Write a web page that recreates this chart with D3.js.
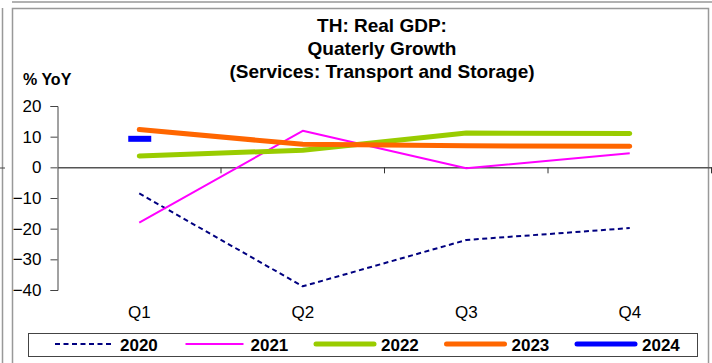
<!DOCTYPE html>
<html>
<head>
<meta charset="utf-8">
<script src="https://cdn.jsdelivr.net/npm/d3@7"></script>
<style>
  body { margin: 0; background: #fff; }
  text { font-family: "Liberation Sans", Arial, sans-serif; }
</style>
</head>
<body>
<script>
var w = 712;
var h = 363;

// data
var quarters = ["Q1", "Q2", "Q3", "Q4"];
var years = ["2020", "2021", "2022", "2023", "2024"];
var v2020 = [-8.5, -38.8, -23.7, -19.8];
var v2021 = [-18.0, 11.9, -0.3, 4.6];
var v2022 = [3.7, 5.6, 11.2, 11.0];
var v2023 = [12.3, 7.5, 7.0, 6.9];
var v2024 = [9.3];
var yTicks = [20, 10, 0, -10, -20, -30, -40];
var titleLines = ["TH: Real GDP:", "Quaterly Growth", "(Services: Transport and Storage)"];

var series = [
  {name: years[0], values: v2020, color: "#000080", width: 2, dash: "5,3.5"},
  {name: years[1], values: v2021, color: "#FF00FF", width: 2, dash: null},
  {name: years[2], values: v2022, color: "#99CC00", width: 5, dash: null},
  {name: years[3], values: v2023, color: "#FF6600", width: 5, dash: null},
  {name: years[4], values: v2024, color: "#0000FF", width: 5, dash: null}
];

var svg = d3.select("body")
  .append("svg")
  .attr("width", w)
  .attr("height", h);

// frames
svg.append("line").attr("x1", 12).attr("y1", 2).attr("x2", w).attr("y2", 2)
  .attr("stroke", "#999").attr("stroke-width", 1.5);
svg.append("line").attr("x1", 2.5).attr("y1", 8).attr("x2", 2.5).attr("y2", h)
  .attr("stroke", "#999").attr("stroke-width", 1.5);
svg.append("line").attr("x1", 0).attr("y1", 168).attr("x2", 5).attr("y2", 168)
  .attr("stroke", "#444").attr("stroke-width", 1);
svg.append("rect")
  .attr("x", 12.5).attr("y", 8.5).attr("width", 696).attr("height", 360)
  .attr("fill", "none").attr("stroke", "#999").attr("stroke-width", 1.5);

// title
svg.selectAll(".title")
  .data(titleLines)
  .enter().append("text")
  .attr("x", 382)
  .attr("y", function(d, i) { return 32 + i * 23; })
  .attr("text-anchor", "middle")
  .style("font-size", "19px")
  .style("font-weight", "bold")
  .text(function(d) { return d; });

svg.append("text")
  .attr("x", 23).attr("y", 85)
  .style("font-size", "16px")
  .style("font-weight", "bold")
  .text("% YoY");

// scales
var x = d3.scaleBand().domain(quarters).range([57.5, 711.5]);
var y = d3.scaleLinear().domain([-40, 20]).range([290, 106]);

// y axis
var yAxis = svg.append("g")
  .attr("transform", "translate(57.5,0)")
  .call(d3.axisLeft(y).tickValues(yTicks).tickSize(7).tickPadding(9));
yAxis.select(".domain").attr("stroke", "#444");
yAxis.selectAll(".tick line").attr("stroke", "#444");
yAxis.selectAll("text")
  .style("font-size", "17px")
  .attr("fill", "#000");

// zero line with category ticks
var xAxis = svg.append("g")
  .attr("transform", "translate(0," + y(0) + ")")
  .call(d3.axisBottom(x).tickSize(0).tickFormat(""));
xAxis.select(".domain").attr("stroke", "#555").attr("stroke-width", 1.5);
xAxis.selectAll(".sep")
  .data(quarters)
  .enter().append("line")
  .attr("x1", function(d) { return x(d) + x.bandwidth(); })
  .attr("x2", function(d) { return x(d) + x.bandwidth(); })
  .attr("y1", 0).attr("y2", 6)
  .attr("stroke", "#333");

// category labels at bottom
svg.selectAll(".qlab")
  .data(quarters)
  .enter().append("text")
  .attr("x", function(d) { return x(d) + x.bandwidth() / 2; })
  .attr("y", 318)
  .attr("text-anchor", "middle")
  .style("font-size", "17px")
  .text(function(d) { return d; });

// lines
var line = d3.line()
  .x(function(d, i) { return x(quarters[i]) + x.bandwidth() / 2; })
  .y(function(d) { return y(d); });

series.forEach(function(s) {
  if (s.values.length > 1) {
    svg.append("path")
      .datum(s.values)
      .attr("d", line)
      .attr("fill", "none")
      .attr("stroke", s.color)
      .attr("stroke-width", s.width)
      .attr("stroke-dasharray", s.dash)
      .attr("stroke-linecap", s.width > 3 ? "round" : "butt")
      .attr("stroke-linejoin", "round");
  } else {
    // single point: dash marker
    var cx = x(quarters[0]) + x.bandwidth() / 2;
    svg.append("line")
      .attr("x1", cx - 11).attr("x2", cx + 12)
      .attr("y1", y(s.values[0])).attr("y2", y(s.values[0]))
      .attr("stroke", s.color)
      .attr("stroke-width", 6);
  }
});

// legend
svg.append("rect")
  .attr("x", 28.5).attr("y", 333.5).attr("width", 669).attr("height", 23)
  .attr("fill", "#fff").attr("stroke", "#444").attr("stroke-width", 1);

var lg = svg.selectAll(".leg")
  .data(series)
  .enter().append("g")
  .attr("transform", function(d, i) { return "translate(" + (55 + i * 130.5) + ",344)"; });
lg.append("line")
  .attr("x1", 0).attr("x2", 58)
  .attr("y1", 0).attr("y2", 0)
  .attr("stroke", function(d) { return d.color; })
  .attr("stroke-width", function(d) { return d.width; })
  .attr("stroke-dasharray", function(d) { return d.dash; })
  .attr("stroke-linecap", function(d) { return d.width > 3 ? "round" : "butt"; });
lg.append("text")
  .attr("x", 65).attr("y", 7)
  .style("font-size", "17px")
  .style("font-weight", "bold")
  .text(function(d) { return d.name; });
</script>
</body>
</html>
